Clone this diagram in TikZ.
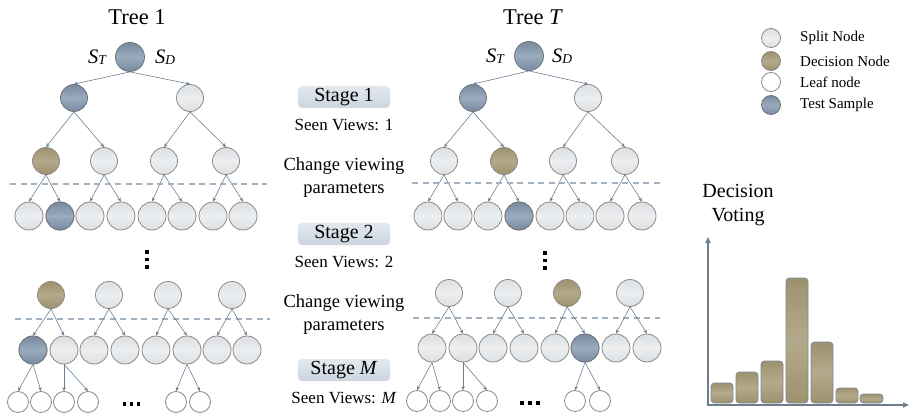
\documentclass[tikz,border=0pt]{standalone}
\usepackage{fontspec}
\setmainfont{Liberation Serif}
\usetikzlibrary{arrows.meta}
\definecolor{edgec}{HTML}{6B8096}
\definecolor{dashc}{HTML}{A3B1BE}
\definecolor{nborder}{HTML}{8F8885}
\definecolor{splitA}{HTML}{DCE0E3}
\definecolor{splitB}{HTML}{ECEEF0}
\definecolor{testA}{HTML}{778AA0}
\definecolor{testB}{HTML}{9AABBD}
\definecolor{testborder}{HTML}{6F7379}
\definecolor{decA}{HTML}{9D916D}
\definecolor{decB}{HTML}{B4AA8B}
\definecolor{barborder}{HTML}{7D8995}
\definecolor{axisc}{HTML}{6E7D8C}
\definecolor{stageA}{HTML}{E2E8EE}
\definecolor{stageB}{HTML}{CCD6E0}
\newcommand\myST{\textit{S}\raisebox{-1pt}{\fontsize{13.5}{13.5}\selectfont\itshape T}}
\newcommand\mySD{\textit{S}\raisebox{-1pt}{\fontsize{13.5}{13.5}\selectfont\itshape D}}
\tikzset{
  nd/.style={circle, draw=nborder, line width=0.8pt, inner sep=0pt},
  sp/.style={nd, top color=splitA, bottom color=splitA, middle color=splitB},
  ts/.style={nd, top color=testA, bottom color=testA, middle color=testB, draw=testborder},
  dc/.style={nd, top color=decA, bottom color=decA, middle color=decB},
  lf/.style={nd, fill=white},
  big/.style={minimum size=29pt},
  med/.style={minimum size=27pt},
  row/.style={minimum size=28pt},
  sm/.style={minimum size=21pt},
  lg/.style={minimum size=19pt},
  ed/.style={draw=edgec, line width=0.6pt, -{Stealth[length=4pt,width=3.4pt]}},
  dsh/.style={draw=dashc, line width=1.1pt, dash pattern=on 6pt off 4.5pt},
  stagebox/.style={rounded corners=4pt, top color=stageA, bottom color=stageB, draw=none, minimum width=92pt, minimum height=22pt, inner sep=0pt, font=\fontsize{20}{22}\selectfont},
  seen/.style={font=\fontsize{17}{19}\selectfont, inner sep=0pt},
  chg/.style={font=\fontsize{18.5}{23}\selectfont, align=center, inner sep=0pt},
  ttl/.style={font=\fontsize{22.5}{26}\selectfont, inner sep=0pt},
  slab/.style={font=\fontsize{20.5}{24}\selectfont, inner sep=0pt},
  legt/.style={font=\fontsize{15}{17}\selectfont, anchor=west, inner sep=0pt},
  bar/.style={rounded corners=3.5pt, draw=barborder, line width=0.8pt, top color=decA, bottom color=decA, middle color=decB},
  axisl/.style={draw=axisc, line width=1.6pt, -{Triangle[length=6pt,width=5pt]}},
  sq/.style={fill=black}
}
\begin{document}
\begin{tikzpicture}[x=1pt,y=-1pt]
\useasboundingbox (0,0) rectangle (910,414);
% ---------------- Tree 1 top ----------------
\node[ttl] (t1) at (137,17) {Tree 1};
\node[slab] (st1) at (97,57) {\myST};
\node[slab] (sd1) at (165,57) {\mySD};
\node[ts,big] (r1) at (130,57) {};
\node[ts,med] (a1) at (74,98) {};
\node[sp,med] (a2) at (190,98) {};
\node[dc,med] (b1) at (46,161) {};
\node[sp,med] (b2) at (104,161) {};
\node[sp,med] (b3) at (164,161) {};
\node[sp,med] (b4) at (226,161) {};
\foreach \i/\x in {1/29,2/60,3/90,4/121,5/152,6/182,7/213,8/243}{
  \node[sp,row] (l\i) at (\x,216) {};
}
\node[ts,row] at (l2) {};
\draw[ed] (r1.south) -- (a1.north);
\draw[ed] (r1.south) -- (a2.north);
\draw[ed] (a1.south) -- (b1.north);
\draw[ed] (a1.south) -- (b2.north);
\draw[ed] (a2.south) -- (b3.north);
\draw[ed] (a2.south) -- (b4.north);
\foreach \p/\c in {b1/l1,b1/l2,b2/l3,b2/l4,b3/l5,b3/l6,b4/l7,b4/l8}{
  \draw[ed] (\p.south) -- (\c.north);
}
\coordinate (h1a) at (10,184); \coordinate (h1b) at (267,184);
\draw[dsh] (h1a) -- (h1b);
% vertical dots
\foreach \y in {250,257.5,265}{ \fill[sq] (145.2,\y) rectangle ++(3.6,3.6); }
% ---------------- Tree 1 bottom ----------------
\node[dc,med] (c1) at (51,295) {};
\node[sp,med] (c2) at (109,295) {};
\node[sp,med] (c3) at (168,295) {};
\node[sp,med] (c4) at (232,295) {};
\coordinate (h2a) at (15,319); \coordinate (h2b) at (270,319);
\draw[dsh] (h2a) -- (h2b);
\foreach \i/\x in {1/33,2/64,3/94,4/125,5/156,6/187,7/217,8/247}{
  \node[sp,row] (d\i) at (\x,350) {};
}
\node[ts,row] at (d1) {};
\foreach \i/\x in {1/18,2/41,3/64,4/88,5/176,6/200}{
  \node[lf,sm] (e\i) at (\x,402) {};
}
\foreach \p/\c in {c1/d1,c1/d2,c2/d3,c2/d4,c3/d5,c3/d6,c4/d7,c4/d8,d1/e1,d1/e2,d2/e3,d2/e4,d6/e5,d6/e6}{
  \draw[ed] (\p.south) -- (\c.north);
}
\foreach \x in {122.5,129.5,136.5}{ \fill[sq] (\x,402) rectangle ++(3.6,3.6); }
% ---------------- Tree T top ----------------
\node[ttl] (tT) at (533,17) {Tree \textit{T}};
\node[slab] (stT) at (495,56) {\myST};
\node[slab] (sdT) at (562,56) {\mySD};
\node[ts,big] (R) at (529,56) {};
\node[ts,med] (A1) at (473,98) {};
\node[sp,med] (A2) at (588,98) {};
\node[sp,med] (B1) at (444,161) {};
\node[dc,med] (B2) at (504,161) {};
\node[sp,med] (B3) at (563,161) {};
\node[sp,med] (B4) at (625,161) {};
\foreach \i/\x in {1/428,2/458,3/488,4/519,5/550,6/580,7/610,8/642}{
  \node[sp,row] (L\i) at (\x,216) {};
}
\node[ts,row] at (L4) {};
\foreach \p/\c in {R/A1,R/A2,A1/B1,A1/B2,A2/B3,A2/B4,B1/L1,B1/L2,B2/L3,B2/L4,B3/L5,B3/L6,B4/L7,B4/L8}{
  \draw[ed] (\p.south) -- (\c.north);
}
\coordinate (H1a) at (412,183); \coordinate (H1b) at (660,183);
\draw[dsh] (H1a) -- (H1b);
\foreach \y in {251,258.5,266}{ \fill[sq] (543.2,\y) rectangle ++(3.6,3.6); }
% ---------------- Tree T bottom ----------------
\node[sp,med] (C1) at (449,293) {};
\node[sp,med] (C2) at (508,293) {};
\node[dc,med] (C3) at (567,293) {};
\node[sp,med] (C4) at (630,293) {};
\coordinate (H2a) at (413,318); \coordinate (H2b) at (660,318);
\draw[dsh] (H2a) -- (H2b);
\foreach \i/\x in {1/432,2/463,3/493,4/524,5/555,6/585,7/616,8/647}{
  \node[sp,row] (D\i) at (\x,348) {};
}
\node[ts,row] at (D6) {};
\foreach \i/\x in {1/417,2/440,3/463,4/487,5/575,6/600}{
  \node[lf,sm] (E\i) at (\x,401) {};
}
\foreach \p/\c in {C1/D1,C1/D2,C2/D3,C2/D4,C3/D5,C3/D6,C4/D7,C4/D8,D1/E1,D1/E2,D2/E3,D2/E4,D6/E5,D6/E6}{
  \draw[ed] (\p.south) -- (\c.north);
}
\foreach \x in {520,528,536}{ \fill[sq] (\x,401) rectangle ++(3.6,3.6); }
% ---------------- Middle column ----------------
\node[stagebox] (s1) at (344,97) {Stage 1};
\node[seen] (v1) at (344,125) {Seen Views: 1};
\node[chg] (cv1) at (344,177.5) {Change viewing\\parameters};
\node[stagebox] (s2) at (344,234) {Stage 2};
\node[seen] (v2) at (344,262) {Seen Views: 2};
\node[chg] (cv2) at (344,314.5) {Change viewing\\parameters};
\node[stagebox] (sM) at (344,370) {Stage \textit{M}};
\node[seen] (vM) at (344,398) {Seen Views: \textit{M}};
% ---------------- Legend ----------------
\node[sp,lg] (g1) at (771,38) {};
\node[dc,lg] (g2) at (771,61) {};
\node[lf,lg] (g3) at (771,82) {};
\node[ts,lg] (g4) at (771,105) {};
\node[legt] (gt1) at (800,38) {Split Node};
\node[legt] (gt2) at (800,61) {Decision Node};
\node[legt] (gt3) at (800,82) {Leaf node};
\node[legt] (gt4) at (800,105) {Test Sample};
% ---------------- Voting chart ----------------
\node[font=\fontsize{20}{24}\selectfont, align=center, inner sep=0pt] (dv) at (738,205) {Decision\\Voting};
\foreach \xa/\xb/\yt in {711/733/383,736/758/372,761/783/361,786/808/278,811/833/342,836/858/388,860/883/394}{
  \draw[bar] (\xa,403) rectangle (\xb,\yt);
}
\coordinate (org) at (708,405);
\coordinate (ytop) at (708,237);
\coordinate (xend) at (909,405);
\coordinate (org2) at (707.2,405);
\draw[axisl] (org) -- (ytop);
\draw[axisl] (org2) -- (xend);
\end{tikzpicture}
\end{document}
